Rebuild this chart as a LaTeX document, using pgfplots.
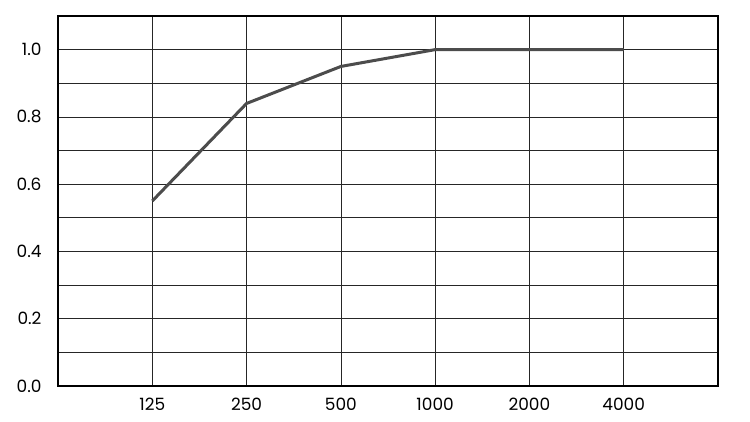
\documentclass[border=0pt]{standalone}
\usepackage{pgfplots}
\pgfplotsset{compat=1.18}
\usepackage{fontspec}
\setmainfont{Poppins}
\begin{document}
\begin{tikzpicture}[font=\fontsize{17}{20}\selectfont]
\begin{axis}[
  scale only axis, width=660bp, height=370bp,
  xmin=-1, xmax=6, ymin=0, ymax=1.1,
  xtick={0,1,2,3,4,5},
  xticklabels={125,250,500,1000,2000,4000},
  ytick={0,0.2,0.4,0.6,0.8,1.0},
  minor ytick={0.1,0.3,0.5,0.7,0.9},
  /pgf/number format/fixed,
  /pgf/number format/fixed zerofill,
  /pgf/number format/precision=1,
  /pgf/number format/assume math mode=true,
  tick label style={font=\fontsize{17}{20}\selectfont},
  grid=both,
  major grid style={black!85, line width=0.7bp},
  minor grid style={black!85, line width=0.7bp},
  major tick length=0pt, minor tick length=0pt,
  axis line style={black, line width=1.6bp},
  xticklabel style={yshift=-9bp},
  yticklabel style={xshift=-13bp},
]
\addplot[color=black!70, line width=3bp] coordinates {
(0,0.55) (1,0.84) (2,0.95) (3,1.0) (4,1.0) (5,1.0)
};
\end{axis}
\pgfresetboundingbox
\path[use as bounding box] ([xshift=-58bp,yshift=-35bp]current axis.south west) rectangle ([xshift=32bp,yshift=16bp]current axis.north east);
\end{tikzpicture}
\end{document}
